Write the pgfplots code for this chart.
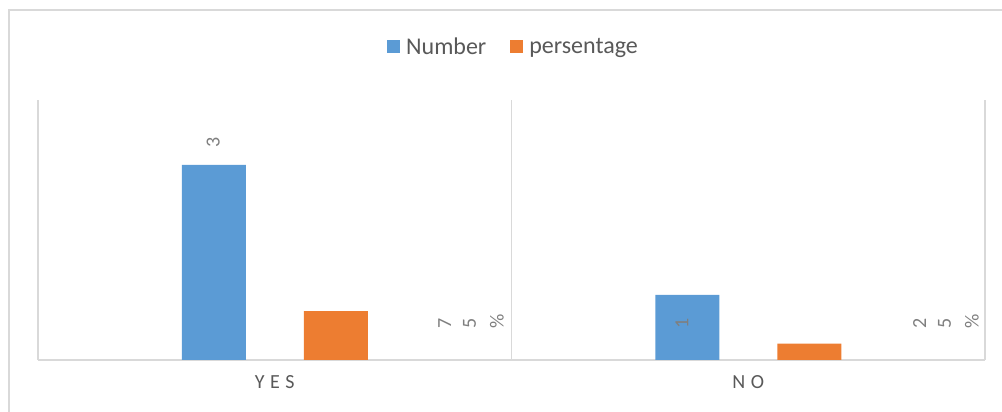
\documentclass[border=0pt]{standalone}
\usepackage{pgfplots}
\pgfplotsset{compat=1.18}
\usepackage{fontspec}
\setmainfont{Carlito}
\definecolor{cblue}{HTML}{5B9BD5}
\definecolor{corange}{HTML}{ED7D31}
\definecolor{ctext}{HTML}{595959}
\definecolor{clab}{HTML}{7F7F7F}
\definecolor{cgrid}{HTML}{D9D9D9}
\begin{document}
\begin{tikzpicture}
\useasboundingbox (0,0) rectangle (1002pt,412pt);
\draw[cgrid, line width=1.5pt] (9pt,0pt) -- (9pt,402pt) -- (1002pt,402pt);
\begin{axis}[
  at={(38pt,52pt)}, anchor=south west,
  scale only axis, width=947pt, height=260pt,
  xmin=-0.5, xmax=1.5, ymin=0, ymax=4,
  axis y line=none,
  axis x line*=bottom,
  x axis line style={draw=cgrid, line width=2pt},
  xtick={0,1},
  xticklabels={Y\hspace{5.5pt}E\hspace{5.5pt}S, N\hspace{5.5pt}O},
  major tick length=0pt,
  minor xtick={-0.5,0.5,1.5},
  minor tick length=0pt,
  xminorgrids=true,
  minor x grid style={draw=cgrid, line width=1.5pt},
  xticklabel style={font=\fontsize{20}{24}\selectfont, text=ctext, yshift=-12pt},
  ybar, bar width=64pt,
  legend style={at={(0.5,1)}, anchor=center, yshift=53pt, xshift=2pt, draw=none,
    font=\fontsize{24}{28}\selectfont, text=ctext, legend columns=-1,
    /tikz/every even column/.append style={column sep=22pt},
    /tikz/every odd column/.append style={column sep=0pt}},
  legend image code/.code={\fill[#1] (0pt,-6.5pt) rectangle (13pt,6.5pt);},
  legend cell align=left,
  clip=false,
]
\addplot[fill=cblue, draw=none, bar shift=-61pt] coordinates {(0,3) (1,1)};
\addplot[fill=corange, draw=none, bar shift=61pt] coordinates {(0,0.75) (1,0.25)};
\legend{\hspace{4pt}Number, \hspace{4pt}persentage}
\node[rotate=90, text=clab, font=\fontsize{20}{24}\selectfont] at (axis cs:-0.13,3.34) {3};
\node[rotate=90, text=clab, font=\fontsize{20}{24}\selectfont] at (axis cs:0.86,0.57) {1};
\node[text=clab, font=\fontsize{20}{24}\selectfont] at (axis cs:0.4145,0.6)
  {\rotatebox{90}{7}\hspace{12pt}\rotatebox{90}{5}\hspace{14pt}\rotatebox{90}{\%}};
\node[text=clab, font=\fontsize{20}{24}\selectfont] at (axis cs:1.4176,0.6)
  {\rotatebox{90}{2}\hspace{12pt}\rotatebox{90}{5}\hspace{14pt}\rotatebox{90}{\%}};
\end{axis}
\end{tikzpicture}
\end{document}
